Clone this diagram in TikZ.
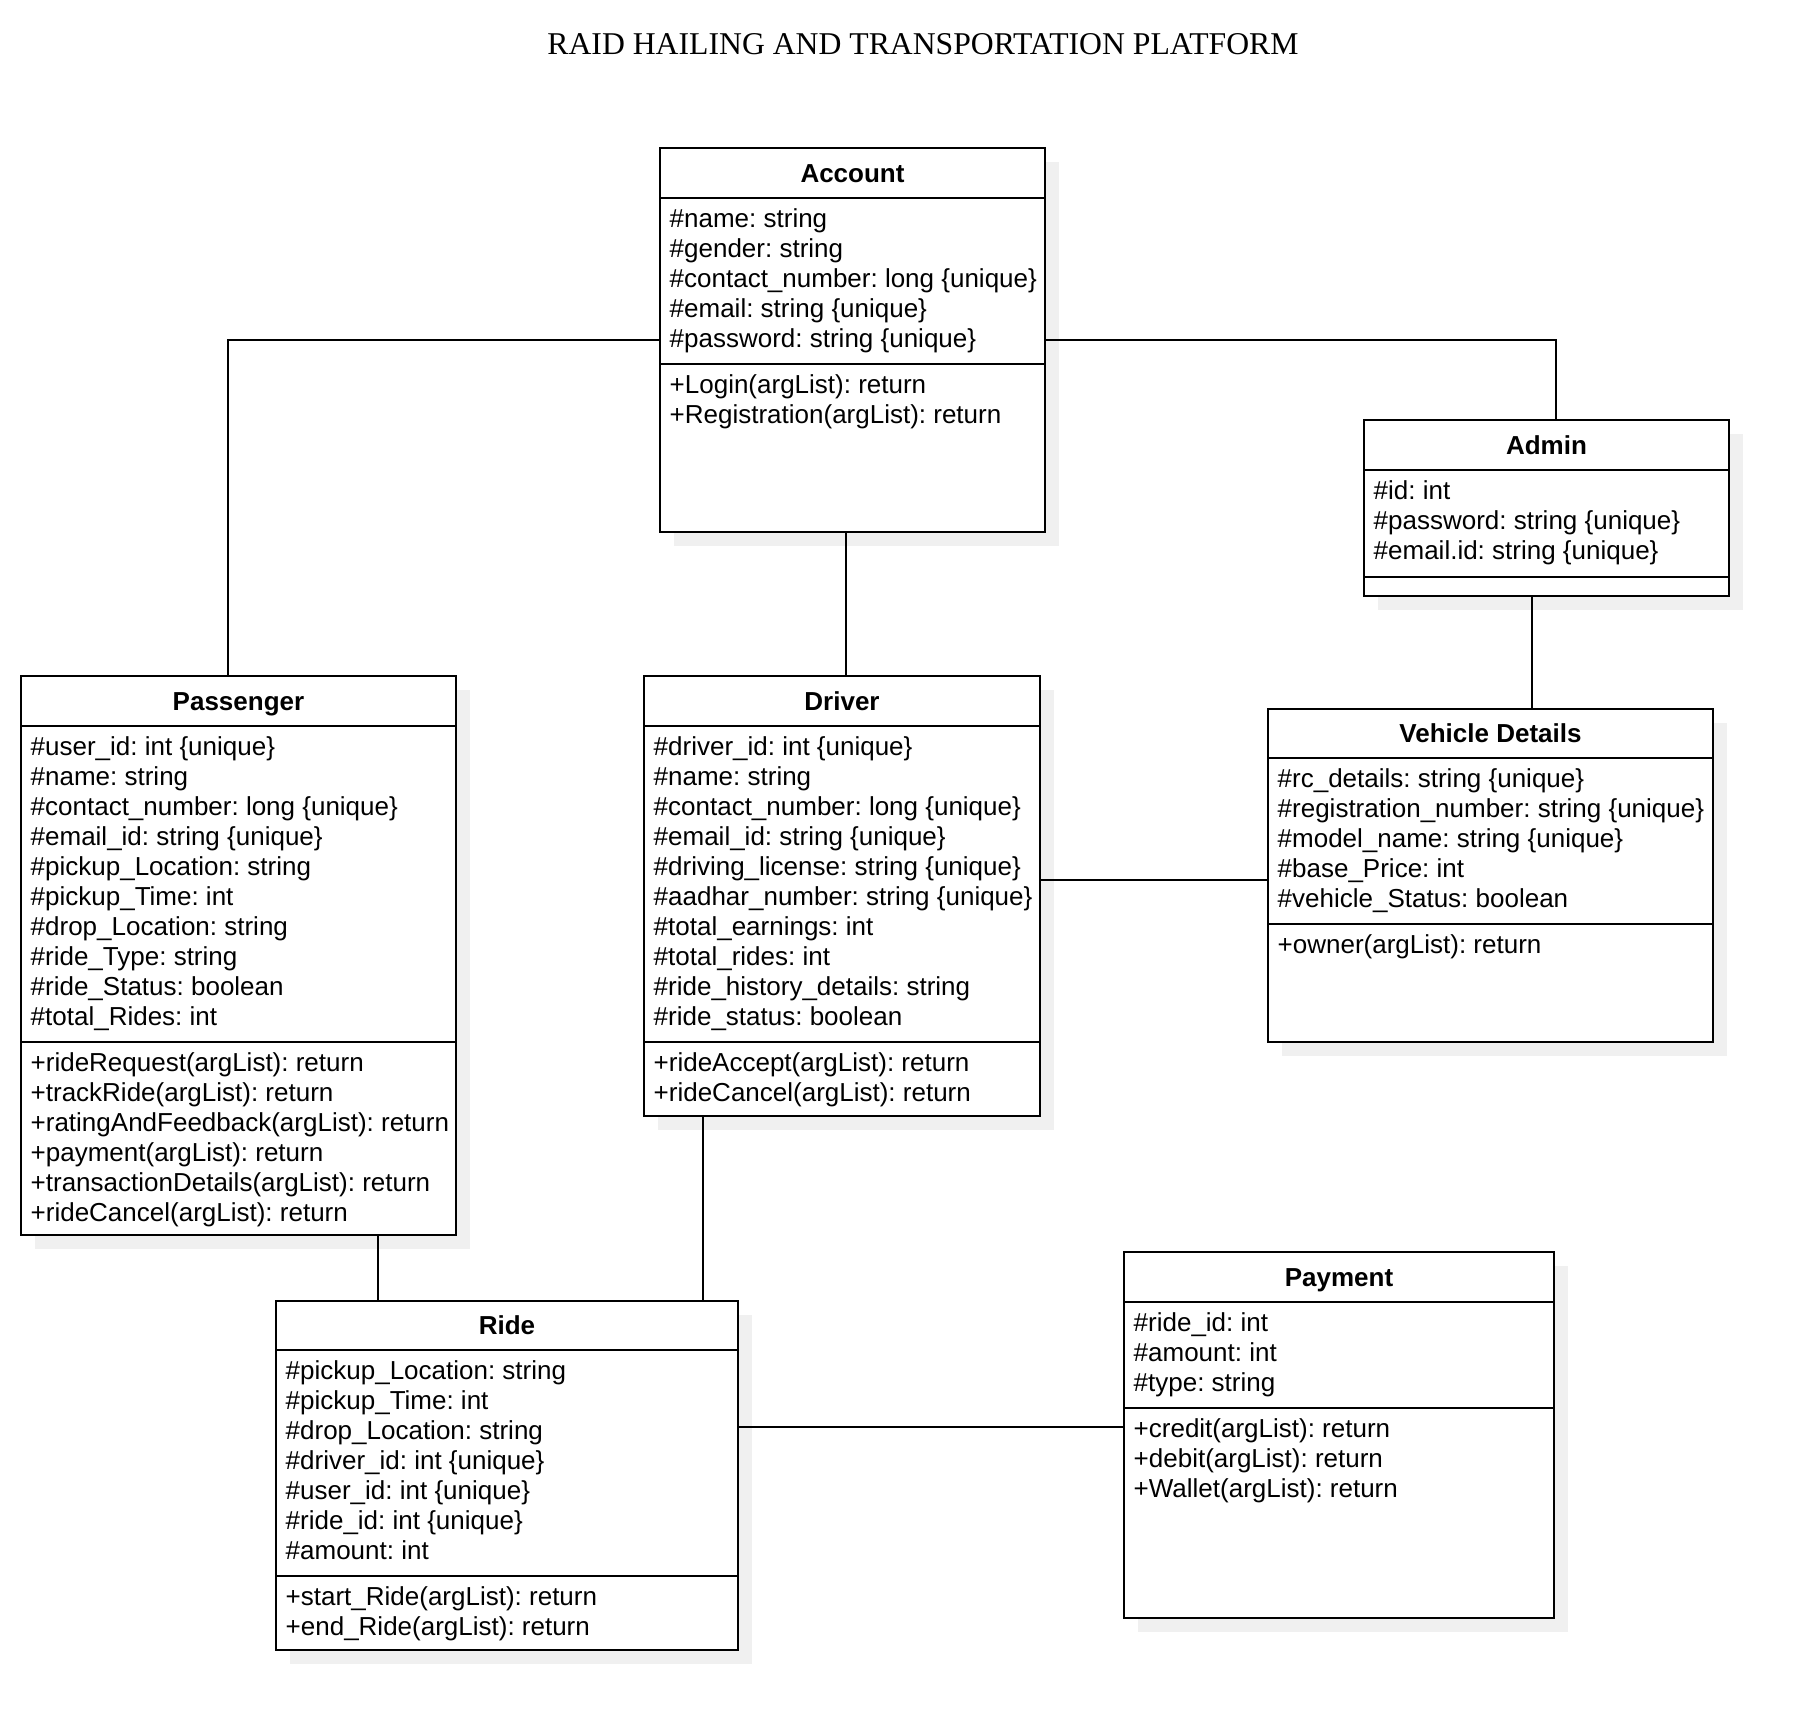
\documentclass[tikz,border=0pt]{standalone}
\usepackage{fontspec}
\setmainfont{Liberation Sans}
\newfontfamily\titlefont{Liberation Serif}
\newcommand\umlclass[8]{%
  \node[classbox, minimum width={#4-#2}, minimum height={#5-#3}] (#1) at (#2,#3) {};
  \draw[sepline] (#2,#6) -- (#4,#6);
  \draw[sepline] (#2,#7) -- (#4,#7);
  \node[ctitle] (#1-t) at ({(#2+#4)/2},{(#3+#6)/2+9}) {#8};
}
\newcommand\umlshadow[4]{%
  \fill[black!6] ({#1+14},{#2+14}) rectangle ({#3+14},{#4+14});
}
\newcommand\umllines[4]{%
  \foreach \t [count=\i] in {#4} {\node[umlline] (#1\i) at ({#2},{#3+30*(\i-1)}) {\t};}
}
\begin{document}
\frenchspacing
\begin{tikzpicture}[x=1pt,y=-1pt,
  classbox/.style={draw=black, line width=2pt, fill=white, anchor=north west, inner sep=0pt, outer sep=0pt},
  sepline/.style={line width=2pt},
  conn/.style={line width=2pt},
  ctitle/.style={font=\bfseries\fontsize{26}{30}\selectfont\frenchspacing, anchor=base, inner sep=0pt},
  umlline/.style={font=\fontsize{26}{30}\selectfont\frenchspacing, anchor=base west, inner sep=0pt}
]
\useasboundingbox[fill=white] (0,0) rectangle (1810,1730);

\node[font=\titlefont\fontsize{31.7}{36}\selectfont, anchor=base, inner sep=0pt] (title) at (923,54) {RAID HAILING AND TRANSPORTATION PLATFORM};

% shadows
\umlshadow{660}{148}{1045}{532}
\umlshadow{1364}{420}{1729}{596}
\umlshadow{21}{676}{456}{1235}
\umlshadow{644}{676}{1040}{1116}
\umlshadow{1268}{709}{1713}{1042}
\umlshadow{276}{1301}{738}{1650}
\umlshadow{1124}{1252}{1554}{1618}

% classes
\umlclass{account}{660}{148}{1045}{532}{198}{364}{Account}
\umllines{acca}{669.5}{227}{\#name: string, \#gender: string, \#contact\_number: long \{unique\}, \#email: string \{unique\}, \#password: string \{unique\}}
\umllines{accm}{669.5}{393}{+Login(argList): return, +Registration(argList): return}

\umlclass{admin}{1364}{420}{1729}{596}{470}{577}{Admin}
\umllines{adma}{1373.5}{499}{\#id: int, \#password: string \{unique\}, \#email.id: string \{unique\}}

\umlclass{passenger}{21}{676}{456}{1235}{726}{1042}{Passenger}
\umllines{pasa}{30.5}{755}{\#user\_id: int \{unique\}, \#name: string, \#contact\_number: long \{unique\}, \#email\_id: string \{unique\}, \#pickup\_Location: string, \#pickup\_Time: int, \#drop\_Location: string, \#ride\_Type: string, \#ride\_Status: boolean, \#total\_Rides: int}
\umllines{pasm}{30.5}{1071}{+rideRequest(argList): return, +trackRide(argList): return, +ratingAndFeedback(argList): return, +payment(argList): return, +transactionDetails(argList): return, +rideCancel(argList): return}

\umlclass{driver}{644}{676}{1040}{1116}{726}{1042}{Driver}
\umllines{drva}{653.5}{755}{\#driver\_id: int \{unique\}, \#name: string, \#contact\_number: long \{unique\}, \#email\_id: string \{unique\}, \#driving\_license: string \{unique\}, \#aadhar\_number: string \{unique\}, \#total\_earnings: int, \#total\_rides: int, \#ride\_history\_details: string, \#ride\_status: boolean}
\umllines{drvm}{653.5}{1071}{+rideAccept(argList): return, +rideCancel(argList): return}

\umlclass{vehicle}{1268}{709}{1713}{1042}{758}{924}{Vehicle Details}
\umllines{veha}{1277.5}{787}{\#rc\_details: string \{unique\}, \#registration\_number: string \{unique\}, \#model\_name: string \{unique\}, \#base\_Price: int, \#vehicle\_Status: boolean}
\umllines{vehm}{1277.5}{953}{+owner(argList): return}

\umlclass{ride}{276}{1301}{738}{1650}{1350}{1576}{Ride}
\umllines{ridea}{285.5}{1379}{\#pickup\_Location: string, \#pickup\_Time: int, \#drop\_Location: string, \#driver\_id: int \{unique\}, \#user\_id: int \{unique\}, \#ride\_id: int \{unique\}, \#amount: int}
\umllines{ridem}{285.5}{1605}{+start\_Ride(argList): return, +end\_Ride(argList): return}

\umlclass{payment}{1124}{1252}{1554}{1618}{1302}{1408}{Payment}
\umllines{paya}{1133.5}{1331}{\#ride\_id: int, \#amount: int, \#type: string}
\umllines{paym}{1133.5}{1437}{+credit(argList): return, +debit(argList): return, +Wallet(argList): return}

% connectors
\draw[conn] (account.west) -| ([xshift=-10.5pt]passenger.north);
\draw[conn] (account.east) -| ([xshift=9.5pt]admin.north);
\draw[conn] ([xshift=-6.5pt]account.south) -- ([xshift=-6.5pt]account.south |- driver.north);
\draw[conn] ([xshift=-14.5pt]admin.south) -- ([xshift=-14.5pt]admin.south |- vehicle.north);
\draw[conn] ([yshift=-4.5pt]vehicle.west) -- ([yshift=-4.5pt]vehicle.west -| driver.east);
\draw[conn] ([xshift=-139pt]driver.south) -- ([xshift=-139pt]driver.south |- ride.north);
\draw[conn] ([xshift=139.5pt]passenger.south) -- ([xshift=139.5pt]passenger.south |- ride.north);
\draw[conn] ([yshift=48.5pt]ride.east) -- ([yshift=48.5pt]ride.east -| payment.west);
\end{tikzpicture}
\end{document}
